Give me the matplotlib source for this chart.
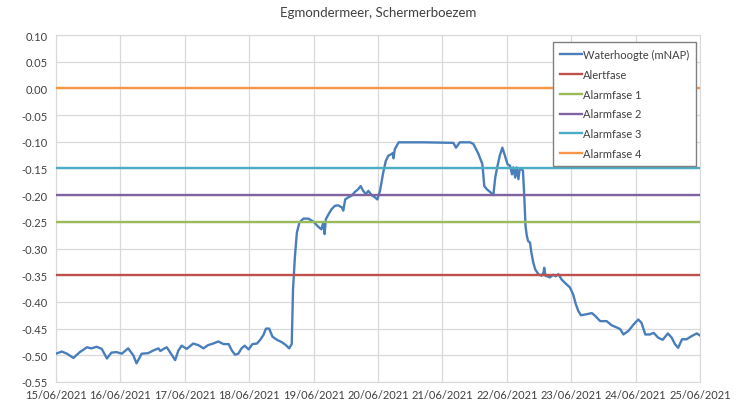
import numpy as np
import pandas as pd
import matplotlib
matplotlib.use("Agg")
from matplotlib import pyplot as plt
import matplotlib.dates as mdates
from matplotlib.ticker import FuncFormatter

plt.rcParams['font.family'] = ['Lato', 'DejaVu Sans']

# time in days after 15/06/2021 00:00, water level in m NAP
days = [0.00, 0.09, 0.17, 0.27, 0.37, 0.48, 0.55, 0.63, 0.71, 0.79, 0.86, 0.94,
        1.02, 1.12, 1.20, 1.25, 1.33, 1.43, 1.51, 1.59, 1.62, 1.67, 1.72, 1.80,
        1.85, 1.90, 1.95, 2.03, 2.13, 2.21, 2.29, 2.36, 2.44, 2.52, 2.60, 2.68,
        2.73, 2.78, 2.83, 2.88, 2.93, 2.99, 3.05, 3.12, 3.17, 3.22, 3.26, 3.31,
        3.36, 3.43, 3.50, 3.56, 3.62, 3.66, 3.68, 3.71, 3.74, 3.78, 3.84, 3.92,
        4.00, 4.07, 4.12, 4.15, 4.17, 4.19, 4.23, 4.28, 4.33, 4.38, 4.44, 4.46,
        4.49, 4.54, 4.59, 4.64, 4.69, 4.73, 4.77, 4.81, 4.85, 4.90, 4.95, 4.99,
        5.03, 5.08, 5.12, 5.16, 5.21, 5.23, 5.24, 5.26, 5.32, 5.70, 6.17, 6.21,
        6.27, 6.43, 6.48, 6.56, 6.62, 6.65, 6.69, 6.74, 6.79, 6.82, 6.85, 6.89,
        6.93, 6.97, 7.01, 7.05, 7.08, 7.10, 7.13, 7.15, 7.18, 7.20, 7.23, 7.25,
        7.27, 7.29, 7.31, 7.33, 7.36, 7.38, 7.41, 7.44, 7.49, 7.54, 7.57, 7.58,
        7.60, 7.67, 7.72, 7.76, 7.80, 7.85, 7.90, 7.98, 8.03, 8.07, 8.11, 8.15,
        8.24, 8.32, 8.37, 8.45, 8.55, 8.63, 8.71, 8.76, 8.81, 8.89, 8.97, 9.04,
        9.09, 9.15, 9.22, 9.28, 9.35, 9.42, 9.50, 9.56, 9.61, 9.66, 9.72, 9.79,
        9.87, 9.95, 10.00]
waterhoogte = [-0.497, -0.493, -0.497, -0.505, -0.494, -0.485, -0.487, -0.484, -0.488, -0.506, -0.495, -0.494,
               -0.497, -0.487, -0.500, -0.515, -0.497, -0.496, -0.491, -0.487, -0.492, -0.488, -0.485, -0.500,
               -0.509, -0.491, -0.482, -0.488, -0.478, -0.481, -0.487, -0.481, -0.478, -0.474, -0.479, -0.479,
               -0.491, -0.499, -0.497, -0.487, -0.482, -0.489, -0.479, -0.478, -0.471, -0.462, -0.450, -0.450,
               -0.465, -0.471, -0.475, -0.480, -0.487, -0.479, -0.376, -0.314, -0.270, -0.251, -0.244, -0.244,
               -0.250, -0.259, -0.264, -0.251, -0.273, -0.245, -0.236, -0.226, -0.220, -0.219, -0.223, -0.229,
               -0.208, -0.204, -0.201, -0.194, -0.189, -0.183, -0.192, -0.198, -0.192, -0.200, -0.204, -0.208,
               -0.192, -0.158, -0.136, -0.126, -0.123, -0.121, -0.131, -0.114, -0.101, -0.101, -0.102, -0.111,
               -0.101, -0.101, -0.104, -0.123, -0.142, -0.183, -0.189, -0.194, -0.200, -0.167, -0.148, -0.126,
               -0.111, -0.126, -0.142, -0.145, -0.161, -0.148, -0.167, -0.148, -0.170, -0.150, -0.152, -0.154,
               -0.201, -0.258, -0.276, -0.286, -0.289, -0.307, -0.326, -0.339, -0.348, -0.351, -0.345, -0.336,
               -0.351, -0.354, -0.349, -0.352, -0.348, -0.358, -0.364, -0.373, -0.386, -0.404, -0.417, -0.425,
               -0.423, -0.421, -0.426, -0.436, -0.436, -0.444, -0.448, -0.451, -0.461, -0.454, -0.442, -0.433,
               -0.439, -0.461, -0.461, -0.458, -0.467, -0.471, -0.459, -0.467, -0.479, -0.486, -0.470, -0.470,
               -0.464, -0.459, -0.463]

fase_namen = ['Alertfase', 'Alarmfase 1', 'Alarmfase 2', 'Alarmfase 3', 'Alarmfase 4']
fase_waarden = [-0.35, -0.25, -0.20, -0.15, 0.00]
fase_kleuren = ['#C0504D', '#9BBB59', '#8064A2', '#4BACC6', '#F79646']

start = pd.Timestamp('2021-06-15')
eind = pd.Timestamp('2021-06-25')
tijd = start + pd.to_timedelta(days, unit='D')

fig = plt.figure(figsize=(7.48, 4.02), dpi=100)
ax = fig.add_axes([0.0749, 0.0473, 0.861, 0.8631])

ax.plot(tijd, waterhoogte, color='#4A7EBB', lw=1.7, label='Waterhoogte (mNAP)', zorder=3)
for naam, w, c in zip(fase_namen, fase_waarden, fase_kleuren):
    ax.plot([start, eind], [w, w], color=c, lw=1.7, label=naam, zorder=4)

ax.set_xlim(start, eind)
ax.set_ylim(-0.55, 0.10)
ax.set_yticks(np.linspace(-0.55, 0.10, 14))
ax.yaxis.set_major_formatter(FuncFormatter(lambda v, p: '0.00' if abs(v) < 1e-9 else f'{v:.2f}'))
ax.xaxis.set_major_locator(mdates.DayLocator())
ax.xaxis.set_major_formatter(mdates.DateFormatter('%d/%m/%Y'))
ax.tick_params(length=0, labelsize=8, colors='#404040')
ax.tick_params(axis='x', pad=5)
ax.tick_params(axis='y', pad=6)
ax.grid(True, color='#d9d9d9', lw=0.9)
ax.set_axisbelow(True)
for s in ax.spines.values():
    s.set_color('#d9d9d9')

ax.set_title('Egmondermeer, Schermerboezem', fontsize=9.5, color='#404040', pad=14)

leg = ax.legend(loc='upper right', bbox_to_anchor=(0.9938, 0.9798), borderaxespad=0,
                fontsize=8, fancybox=False, edgecolor='#808080', handlelength=2.0,
                handletextpad=0.1, labelspacing=0.8, borderpad=0.6, framealpha=1)
for t in leg.get_texts():
    t.set_color('#404040')

fig.savefig('out.png', dpi=100)
